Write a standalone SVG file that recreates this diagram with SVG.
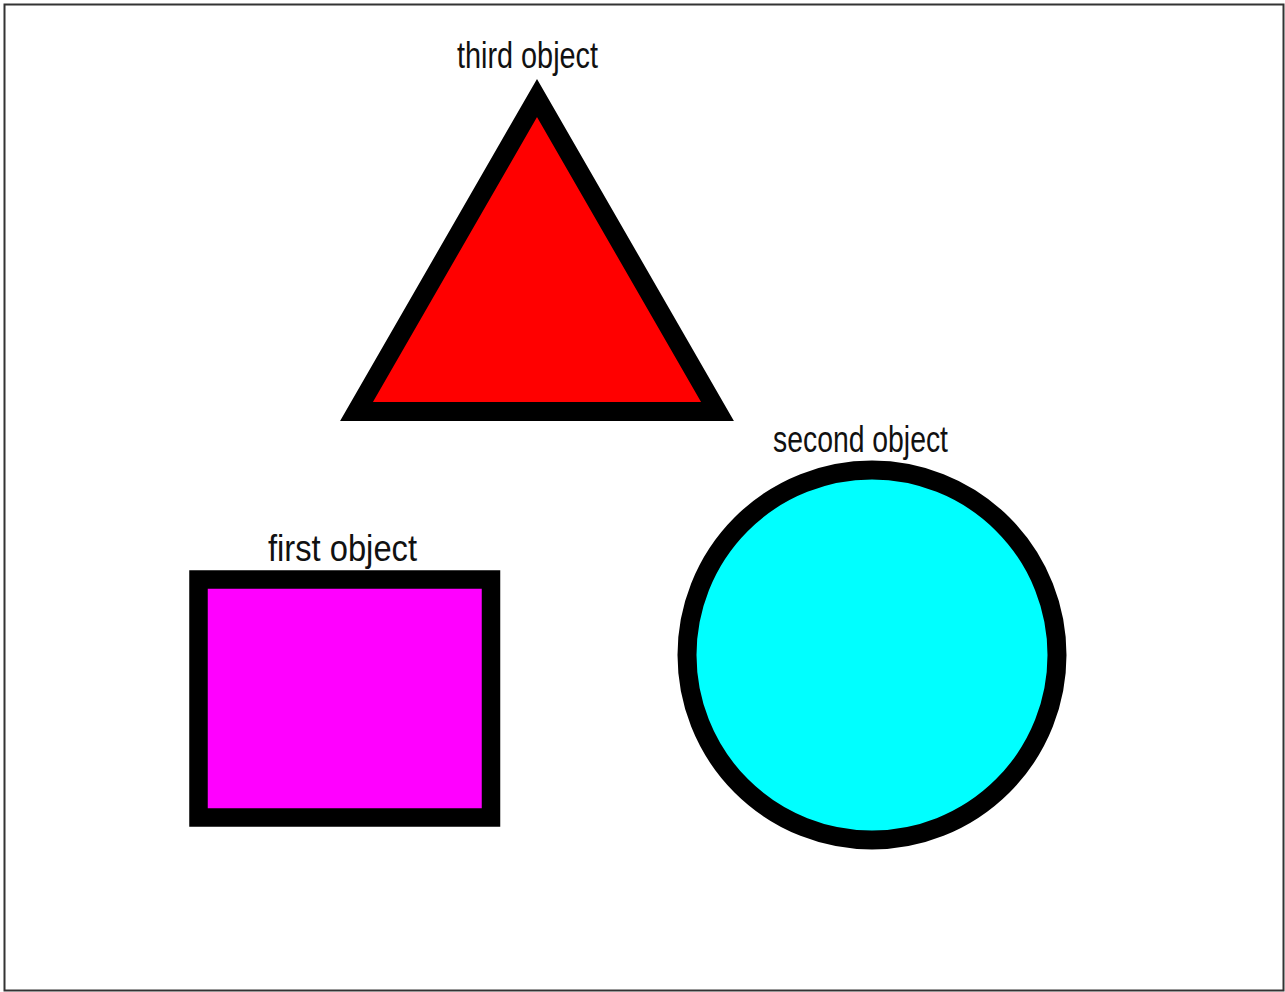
<svg xmlns="http://www.w3.org/2000/svg" width="1285" height="992" viewBox="0 0 1285 992">
  <style>
    .shape { stroke: #000; stroke-linejoin: miter; }
    .label { font-family: "Liberation Sans", Arial, sans-serif; font-size: 36px; fill: #111; }
  </style>
  <rect x="0" y="0" width="1285" height="992" fill="#fff"/>
  <rect x="4.5" y="4.5" width="1279" height="986" fill="none" stroke="#333" stroke-width="2"/>
  <g id="third-object">
    <polygon class="shape" points="537,98 356.5,411.5 717.5,411.5" fill="#ff0000" stroke-width="19"/>
    <text class="label" x="457" y="68" textLength="141" lengthAdjust="spacingAndGlyphs">third object</text>
  </g>
  <g id="second-object">
    <circle class="shape" cx="872" cy="655" r="185" fill="#00ffff" stroke-width="19"/>
    <text class="label" x="773" y="452" textLength="175" lengthAdjust="spacingAndGlyphs">second object</text>
  </g>
  <g id="first-object">
    <rect class="shape" x="198.5" y="579.5" width="292.5" height="238" fill="#ff00ff" stroke-width="18.5"/>
    <text class="label" x="268" y="561" textLength="149" lengthAdjust="spacingAndGlyphs">first object</text>
  </g>
  <g id="connectors"/>
</svg>
